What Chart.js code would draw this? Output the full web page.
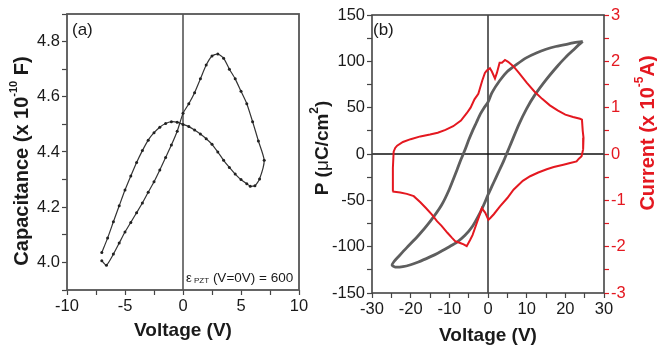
<!DOCTYPE html>
<html lang="en">
<head>
<meta charset="utf-8" />
<title>C-V and P-E loops</title>
<script src="https://cdn.jsdelivr.net/npm/chart.js@4"></script>
<style>
    body { margin: 0; background: #fff; }
    #wrap { position: relative; width: 657px; height: 348px; overflow: hidden; }
    canvas { position: absolute; top: 0; }
</style>
</head>
<body>
<div id="wrap">
    <canvas id="cvChart" width="330" height="348" style="left:0;width:330px;height:348px"></canvas>
    <canvas id="peChart" width="357" height="348" style="left:300px;width:357px;height:348px"></canvas>
</div>
<script>
// (a) capacitance sweep -7 V -> +7 V -> -7 V
const cvVoltage = [-7.0, -6.6, -6.0, -5.5, -5.0, -4.5, -4.0, -3.5, -3.0, -2.5, -2.0, -1.5, -1.0, -0.5, 0.0,
    0.5, 1.0, 1.5, 2.0, 2.5, 3.0, 3.5, 4.0, 4.5, 5.0, 5.5, 6.0, 6.5, 7.0,
    6.6, 6.2, 5.8, 5.5, 5.0, 4.5, 4.0, 3.5, 3.0, 2.5, 2.0, 1.5, 1.0, 0.5, 0.0,
    -0.5, -1.0, -1.5, -2.0, -2.5, -3.0, -3.5, -4.0, -4.5, -5.0, -5.5, -6.0, -6.5, -7.0];
const cvCap = [4.006, 3.99, 4.03, 4.07, 4.11, 4.145, 4.18, 4.215, 4.254, 4.292, 4.335, 4.38, 4.425, 4.475, 4.54,
    4.575, 4.615, 4.665, 4.715, 4.748, 4.755, 4.74, 4.70, 4.665, 4.62, 4.575, 4.51, 4.44, 4.37,
    4.302, 4.278, 4.276, 4.285, 4.30, 4.32, 4.344, 4.37, 4.40, 4.428, 4.448, 4.465, 4.48, 4.492, 4.50,
    4.508, 4.51, 4.503, 4.49, 4.47, 4.443, 4.405, 4.362, 4.313, 4.262, 4.205, 4.147, 4.088, 4.036];

// (b) polarization loop, from the +25 V tip down the upper branch and back
const peVoltage = [24.5, 22, 20, 17.5, 15, 12.5, 10, 7.5, 5, 3, 1, 0, -1, -2, -3, -4, -5, -6, -7, -8,
    -10, -12, -15, -18, -21, -23, -24.3, -24.8,
    -24, -22, -20, -18, -15, -13, -10, -8, -6, -4, -2, -1, 0, 1, 2, 3, 4, 5, 6, 8,
    10, 12, 15, 18, 20, 22, 23.5, 24.5];
const pePol = [121.5, 120, 118, 116, 113, 109, 104, 97, 89, 79, 66, 56, 50, 43, 34, 25, 15, 4, -6, -17,
    -38, -55, -73, -88, -101, -110, -116, -120,
    -122, -121.5, -119.5, -116.5, -111, -107, -100, -95, -88, -78, -63, -54, -44, -35, -26, -17, -8, 2, 12, 32,
    49, 63, 80, 95, 104, 112, 118, 121.5];

// (b) switching current (x 1e-5 A)
const curVoltage = [-24.7, -24.6, -24.4, -24.0, -23.5, -22, -20, -17.5, -15, -13, -11, -9, -7, -5.5, -4.5,
    -3.5, -2.5, -1.5, -0.8, -0.3, 0.5, 1.0, 1.8, 2.3, 3.0, 3.6, 4.4, 5.2, 6.6, 8,
    10, 12, 14, 16, 18, 20, 22, 23.8, 24.3, 24.5, 24.7, 24.6, 24.2,
    23.5, 22.9, 21, 19.5, 17, 15.2, 13, 10.9, 9, 6.6, 5, 3.1, 1.5, 0.6, 0.1,
    -0.7, -1.6, -2.3, -2.9, -4.0, -4.6, -5.5, -6.3, -7.2, -8.5, -9.3, -10.5, -12, -13.2, -14.5,
    -16, -17.5, -19.2, -21, -22.7, -24.7];
const curAmp = [-0.81, -0.3, 0.05, 0.13, 0.18, 0.26, 0.32, 0.38, 0.42, 0.46, 0.52, 0.6, 0.72, 0.88, 1.0,
    1.18, 1.30, 1.58, 1.75, 1.80, 1.85, 1.78, 1.63, 1.75, 1.97, 1.97, 2.03, 1.99, 1.89, 1.75,
    1.54, 1.35, 1.19, 1.05, 0.94, 0.85, 0.8, 0.76, 0.74, 0.5, 0.35, 0.1, -0.05,
    -0.1, -0.16, -0.2, -0.23, -0.28, -0.33, -0.4, -0.48, -0.58, -0.77, -0.95, -1.13, -1.3, -1.38, -1.42,
    -1.27, -1.17, -1.35, -1.49, -1.75, -1.85, -1.99, -1.95, -1.92, -1.88, -1.81, -1.70, -1.55, -1.45, -1.31,
    -1.17, -1.04, -0.91, -0.86, -0.83, -0.81];

const FAMILY = '"Liberation Sans", Arial, Helvetica, sans-serif';
const RED = 'rgb(228,24,32)';

function fontOf(p) {
    return (p.bold ? 'bold ' : '') + p.size + 'px ' + FAMILY;
}

// text with sub/superscripts, centred (or left aligned) at x,y
function drawRich(ctx, t) {
    ctx.save();
    ctx.translate(t.x, t.y);
    if (t.rot) ctx.rotate(t.rot);
    ctx.fillStyle = t.color || '#1a1a1a';
    ctx.textBaseline = 'middle';
    ctx.textAlign = 'left';
    let w = 0;
    t.parts.forEach(p => { ctx.font = fontOf(p); w += ctx.measureText(p.s).width; });
    let x = t.align === 'left' ? 0 : -w / 2;
    t.parts.forEach(p => {
        ctx.font = fontOf(p);
        ctx.fillText(p.s, x, p.dy || 0);
        x += ctx.measureText(p.s).width;
    });
    ctx.restore();
}

const decoPlugin = {
    id: 'deco',
    beforeDatasetsDraw(chart, args, opts) {
        const { ctx, chartArea: a, scales } = chart;
        ctx.save();
        ctx.strokeStyle = opts.zeroColor;
        ctx.lineWidth = opts.zeroWidth;
        ctx.beginPath();
        const x0 = scales.x.getPixelForValue(0);
        ctx.moveTo(x0, a.top);
        ctx.lineTo(x0, a.bottom);
        if (opts.hZero) {
            const y0 = scales.y.getPixelForValue(0);
            ctx.moveTo(a.left, y0);
            ctx.lineTo(a.right, y0);
        }
        ctx.stroke();
        ctx.restore();
    },
    afterDraw(chart, args, opts) {
        const { ctx, chartArea: a } = chart;
        ctx.save();
        ctx.strokeStyle = opts.frameColor;
        ctx.lineWidth = opts.frameWidth;
        ctx.strokeRect(a.left, a.top, a.right - a.left, a.bottom - a.top);
        ctx.restore();
        opts.texts.forEach(t => drawRich(ctx, t));
    }
};

function axis(min, max, step, fit, labelOf, color) {
    return {
        type: 'linear', min: min, max: max,
        ticks: {
            stepSize: step, autoSkip: false, maxRotation: 0, padding: 2,
            color: color || '#1a1a1a', font: { family: FAMILY, size: 16.5 },
            callback: labelOf
        },
        grid: { drawOnChartArea: false, tickLength: 5, tickWidth: 1.2, color: color || '#444' },
        border: { display: false },
        afterFit: fit
    };
}

// (a) C-V
new Chart(document.getElementById('cvChart'), {
    type: 'scatter',
    data: {
        datasets: [{
            data: cvVoltage.map((v, i) => ({ x: v, y: cvCap[i] })),
            showLine: true,
            borderColor: '#333',
            borderWidth: 1.2,
            pointRadius: 1.5,
            pointBorderWidth: 0,
            pointBackgroundColor: '#222',
            tension: 0.2
        }]
    },
    options: {
        responsive: false,
        animation: false,
        layout: { padding: { top: 14, right: 31, left: 0, bottom: 0 } },
        plugins: {
            legend: { display: false },
            tooltip: { enabled: false },
            deco: {
                zeroColor: '#555', zeroWidth: 1.6, hZero: false,
                frameColor: '#555', frameWidth: 1.8,
                texts: [
                    { x: 183, y: 331, parts: [{ s: 'Voltage (V)', size: 19, bold: true }] },
                    { x: 22, y: 161, rot: -Math.PI / 2, parts: [
                        { s: 'Capacitance (x 10', size: 20, bold: true },
                        { s: '-10', size: 11, bold: true, dy: -8 },
                        { s: ' F)', size: 20, bold: true }] },
                    { x: 72, y: 30, align: 'left', parts: [{ s: '(a)', size: 17 }] },
                    { x: 186, y: 278, align: 'left', parts: [
                        { s: '\u03b5', size: 13 },
                        { s: ' PZT', size: 8, dy: 3 },
                        { s: ' (V=0V) = 600', size: 13.5 }] }
                ]
            }
        },
        scales: {
            x: axis(-10, 10, 2.5, s => { s.height = 58; }, v => (v % 5 === 0 ? v : '')),
            y: axis(3.9, 4.9, 0.1, s => { s.width = 67; }, v => {
                const k = Math.round(v * 10);
                return (k % 2 === 0 && k >= 40 && k <= 48) ? (k / 10).toFixed(1) : '';
            })
        }
    },
    plugins: [decoPlugin]
});

// (b) P-E loop and current
const peScales = {
    x: axis(-30, 30, 5, s => { s.height = 55; }, v => (v % 10 === 0 ? v : '')),
    y: axis(-150, 150, 25, s => { s.width = 72; }, v => (v % 50 === 0 ? v : '')),
    y2: axis(-3, 3, 0.5, s => { s.width = 53; }, v => (Math.abs(v % 1) < 1e-6 ? Math.round(v) : ''), RED)
};
peScales.y2.position = 'right';

new Chart(document.getElementById('peChart'), {
    type: 'scatter',
    data: {
        datasets: [{
            data: curVoltage.map((v, i) => ({ x: v, y: curAmp[i] })),
            yAxisID: 'y2',
            showLine: true,
            borderColor: RED,
            borderWidth: 2,
            pointRadius: 0,
            tension: 0
        }, {
            data: peVoltage.map((v, i) => ({ x: v, y: pePol[i] })),
            yAxisID: 'y',
            showLine: true,
            borderColor: '#5e5e5e',
            borderWidth: 2.8,
            pointRadius: 0,
            tension: 0.25
        }]
    },
    options: {
        responsive: false,
        animation: false,
        layout: { padding: { top: 15, right: 0, left: 0, bottom: 0 } },
        plugins: {
            legend: { display: false },
            tooltip: { enabled: false },
            deco: {
                zeroColor: '#111', zeroWidth: 1.3, hZero: true,
                frameColor: '#444', frameWidth: 1.6,
                texts: [
                    { x: 188, y: 336, parts: [{ s: 'Voltage (V)', size: 19, bold: true }] },
                    { x: 23, y: 148, rot: -Math.PI / 2, parts: [
                        { s: 'P (', size: 19, bold: true },
                        { s: '\u03bc', size: 19, bold: false },
                        { s: 'C/cm', size: 19, bold: true },
                        { s: '2', size: 12, bold: true, dy: -8 },
                        { s: ')', size: 19, bold: true }] },
                    { x: 348, y: 133, rot: -Math.PI / 2, color: RED, parts: [
                        { s: 'Current (x 10', size: 20, bold: true },
                        { s: '-5', size: 12, bold: true, dy: -8 },
                        { s: 'A)', size: 20, bold: true }] },
                    { x: 73, y: 30, align: 'left', parts: [{ s: '(b)', size: 17 }] }
                ]
            }
        },
        scales: peScales
    },
    plugins: [decoPlugin]
});
</script>
</body>
</html>
